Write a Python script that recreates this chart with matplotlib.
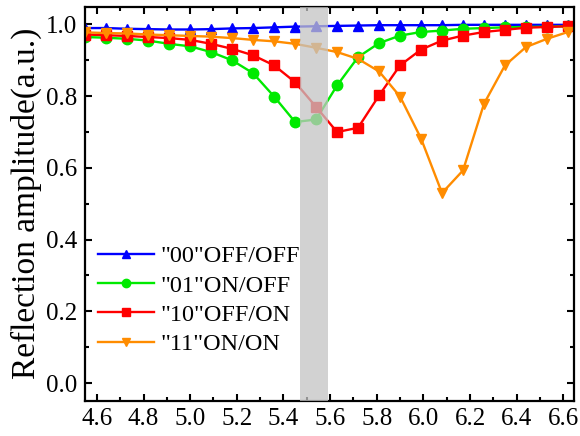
import matplotlib
matplotlib.use('Agg')
import matplotlib.pyplot as plt
from matplotlib.ticker import MultipleLocator, FormatStrFormatter

# marker positions (frequency) shared by all four states
freq = [4.55, 4.64, 4.73, 4.82, 4.91, 5.00, 5.09, 5.18, 5.27, 5.36, 5.45, 5.54,
        5.63, 5.72, 5.81, 5.90, 5.99, 6.08, 6.17, 6.26, 6.35, 6.44, 6.53, 6.62]

amp_00 = [0.990, 0.990, 0.988, 0.987, 0.986, 0.986, 0.987, 0.989, 0.990, 0.992, 0.994, 0.995,
          0.996, 0.997, 0.998, 0.998, 0.998, 0.998, 0.999, 0.999, 0.999, 0.999, 0.999, 0.999]
amp_01 = [0.965, 0.963, 0.960, 0.955, 0.946, 0.939, 0.923, 0.900, 0.864, 0.799, 0.728, 0.735,
          0.830, 0.909, 0.948, 0.969, 0.979, 0.983, 0.988, 0.990, 0.992, 0.993, 0.994, 0.995]
amp_10 = [0.972, 0.970, 0.968, 0.965, 0.962, 0.957, 0.946, 0.932, 0.914, 0.886, 0.839, 0.770,
          0.700, 0.712, 0.802, 0.886, 0.930, 0.955, 0.969, 0.979, 0.985, 0.991, 0.993, 0.995]
amp_11 = [0.978, 0.976, 0.975, 0.972, 0.970, 0.968, 0.966, 0.962, 0.957, 0.953, 0.946, 0.935,
          0.923, 0.904, 0.869, 0.799, 0.682, 0.530, 0.593, 0.779, 0.886, 0.937, 0.960, 0.979]

labels = ['"00"OFF/OFF', '"01"ON/OFF', '"10"OFF/ON', '"11"ON/ON']

plt.rcParams['font.family'] = 'Liberation Serif'

fig = plt.figure(figsize=(5.8, 4.36), dpi=100)
ax = fig.add_axes([0.1457, 0.0803, 0.8440, 0.9047])

ax.plot(freq, amp_00, color='#0000ff', marker='^', markersize=7.5, linewidth=1.7, label=labels[0])
ax.plot(freq, amp_01, color='#00ea00', marker='o', markersize=7.5, linewidth=1.7, label=labels[1])
ax.plot(freq, amp_10, color='#ff0000', marker='s', markersize=7, linewidth=1.7, label=labels[2])
ax.plot(freq, amp_11, color='#ff8c00', marker='v', markersize=7.5, linewidth=1.7, label=labels[3])

# highlighted band
ax.axvspan(5.47, 5.59, color='#c4c4c4', alpha=0.75, linewidth=0, zorder=5)

ax.set_xlim(4.547, 6.646)
ax.set_ylim(-0.05, 1.05)
ax.xaxis.set_major_locator(MultipleLocator(0.2))
ax.xaxis.set_minor_locator(MultipleLocator(0.1))
ax.yaxis.set_major_locator(MultipleLocator(0.2))
ax.yaxis.set_minor_locator(MultipleLocator(0.1))
ax.xaxis.set_major_formatter(FormatStrFormatter('%.1f'))
ax.yaxis.set_major_formatter(FormatStrFormatter('%.1f'))
ax.tick_params(which='both', direction='in', top=True, right=True, width=1.5, labelsize=18)
ax.tick_params(which='major', length=5, pad=5)
ax.tick_params(which='minor', length=3)
for s in ax.spines.values():
    s.set_linewidth(1.6)

ax.set_ylabel('Reflection amplitude(a.u.)', fontsize=24, labelpad=3)

ax.legend(loc='lower left', bbox_to_anchor=(-0.008, 0.073), frameon=False, fontsize=17.5,
          handlelength=2.33, handletextpad=0.25, labelspacing=0.30, borderaxespad=0.3,
          markerscale=0.8)

fig.savefig('out.png', dpi=100)
